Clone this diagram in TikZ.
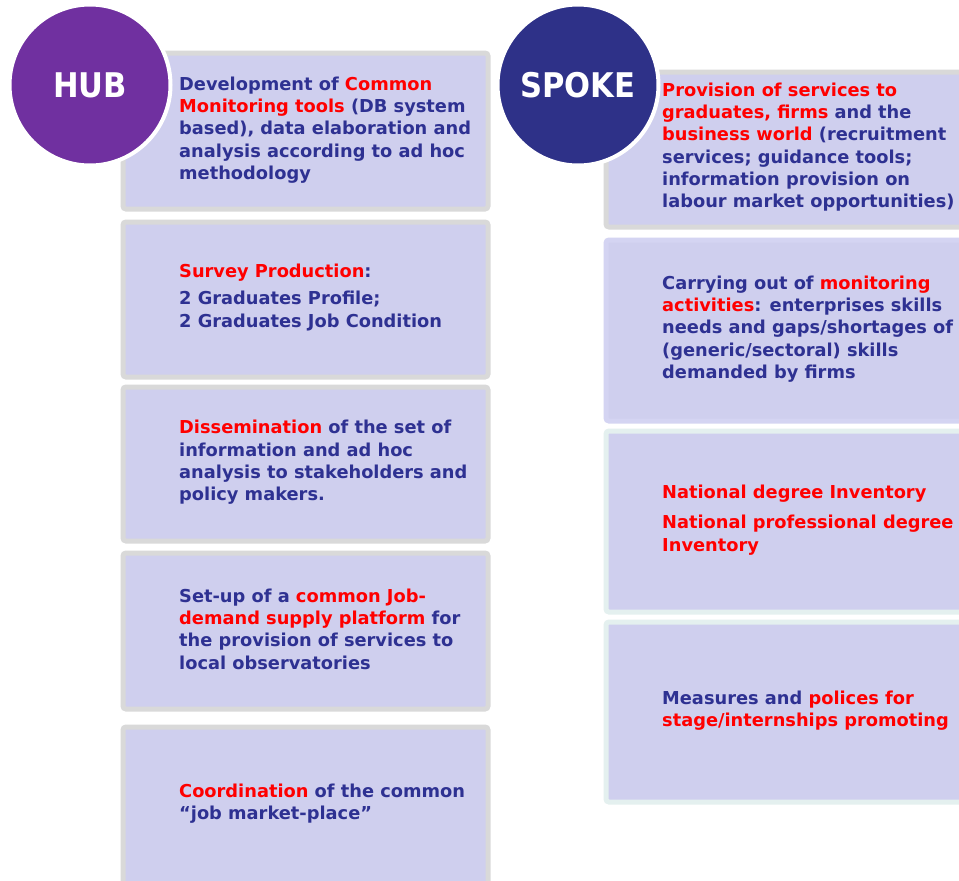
\documentclass[tikz,border=0pt]{standalone}
\usepackage{fontspec}
\setmainfont{DejaVu Sans}
\newfontfamily\circfont{DejaVu Sans Condensed}
\definecolor{hubpurple}{HTML}{7030A0}
\definecolor{spokeblue}{HTML}{2E3188}
\definecolor{boxfill}{HTML}{CFCFEE}
\definecolor{boxgray}{HTML}{D9D9D9}
\definecolor{boxcyan}{HTML}{E4F0EF}
\definecolor{boxlav}{HTML}{D4D4F2}
\definecolor{txtblue}{HTML}{2E3192}
\definecolor{hred}{HTML}{FF0000}
\newcommand{\hl}[1]{\textcolor{hred}{#1}}
\begin{document}
\begin{tikzpicture}[x=1pt,y=-1pt,
  boxnode/.style={rectangle, fill=boxfill, line width=5pt, rounded corners=3pt, inner sep=0pt, anchor=north west},
  leftbox/.style={boxnode, draw=boxgray, minimum width=365pt},
  rightbox/.style={boxnode, minimum width=380pt},
  txt/.style={anchor=west, inner sep=0pt, align=left, text=txtblue, font=\fontsize{17.8}{22.3}\selectfont\bfseries},
  hubcircle/.style={circle, draw=white, line width=4pt, inner sep=0pt, minimum size=161pt, text=white, font=\circfont\fontsize{34}{40}\selectfont\bfseries}
]
\clip (0,0) rectangle (959,881);
\fill[white] (0,0) rectangle (959,881);
% left column boxes
\node[leftbox, minimum height=156pt] (L1) at (120.5,50.5) {};
\node[leftbox, minimum height=155pt] (L2) at (120.5,219.5) {};
\node[leftbox, minimum height=154pt] (L3) at (120.5,384.5) {};
\node[leftbox, minimum height=156pt] (L4) at (120.5,550.5) {};
\node[leftbox, minimum height=170pt] (L5) at (120.5,724.5) {};
% right column boxes
\node[rightbox, draw=boxgray, minimum height=155pt] (R1) at (603.5,69.5) {};
\node[rightbox, draw=boxlav, minimum height=181pt] (R2) at (603.5,237.5) {};
\node[rightbox, draw=boxcyan, minimum height=181pt] (R3) at (603.5,428.5) {};
\node[rightbox, draw=boxcyan, minimum height=180pt] (R4) at (603.5,619.5) {};
% circles
\node[hubcircle, fill=hubpurple] (hub) at (90,85) {HUB};
\node[hubcircle, fill=spokeblue] (spoke) at (578,85) {SPOKE};
% left texts
\node[txt] (t1) at (179,130) {Development of \hl{Common}\\\hl{Monitoring tools} (DB system\\based), data elaboration and\\analysis according to ad hoc\\methodology};
\node[txt] (t2) at (179,297.5) {\hl{Survey Production}:\\[5pt]2 Graduates Profile;\\2 Graduates Job Condition};
\node[txt] (t3) at (179,462.5) {\hl{Dissemination} of the set of\\information and ad hoc\\analysis to stakeholders and\\policy makers.};
\node[txt] (t4) at (179,629) {Set-up of a \hl{common Job-}\\\hl{demand supply platform} for\\the provision of services to\\local observatories};
\node[txt] (t5) at (179,803.5) {\hl{Coordination} of the common\\“job market-place”};
% right texts
\node[txt] (r1) at (662,147) {\hl{Provision of services to}\\\hl{graduates, firms} and the\\\hl{business world} (recruitment\\services; guidance tools;\\information provision on\\labour market opportunities)};
\node[txt] (r2) at (662,329) {Carrying out of \hl{monitoring}\\\hl{activities}: enterprises skills\\needs and gaps/shortages of\\(generic/sectoral) skills\\demanded by firms};
\node[txt, text=hred] (r3) at (662,520) {National degree Inventory\\[8pt]National professional degree\\Inventory};
\node[txt] (r4) at (662,710.5) {Measures and \hl{polices for}\\\hl{stage/internships promoting}};
\end{tikzpicture}
\end{document}
